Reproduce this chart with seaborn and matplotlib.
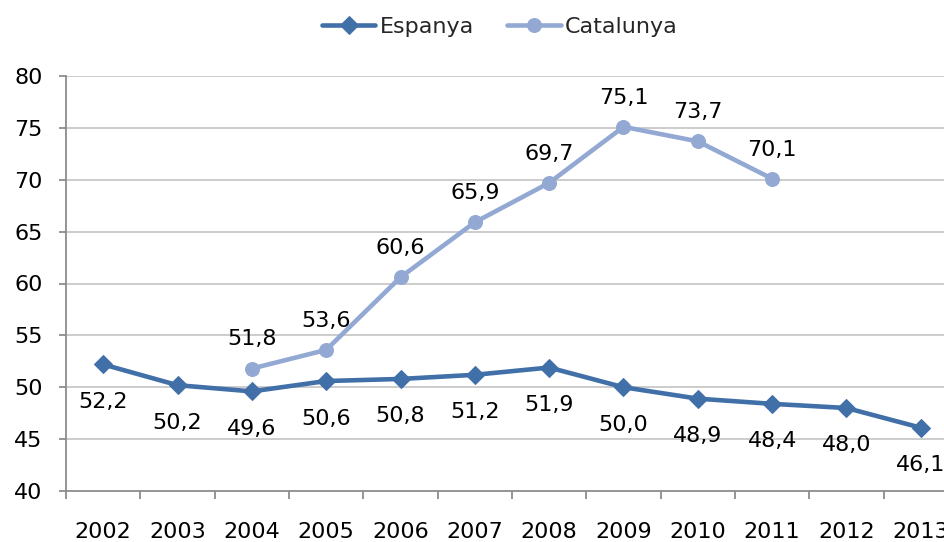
import matplotlib
matplotlib.use("Agg")
import matplotlib.pyplot as plt
import seaborn as sns
import pandas as pd
from matplotlib.ticker import FixedLocator

years = ["2002", "2003", "2004", "2005", "2006", "2007", "2008", "2009", "2010", "2011", "2012", "2013"]
espanya = [52.2, 50.2, 49.6, 50.6, 50.8, 51.2, 51.9, 50.0, 48.9, 48.4, 48.0, 46.1]
cat_years = ["2004", "2005", "2006", "2007", "2008", "2009", "2010", "2011"]
catalunya = [51.8, 53.6, 60.6, 65.9, 69.7, 75.1, 73.7, 70.1]
yticks = [40, 45, 50, 55, 60, 65, 70, 75, 80]

sns.set_theme(style="white")
plt.rcParams["font.family"] = ["DejaVu Sans"]
FS = 16

c_esp = "#4170A8"
c_cat = "#93A9D3"

df_esp = pd.DataFrame({"any": years, "valor": espanya})
df_cat = pd.DataFrame({"any": cat_years, "valor": catalunya})

fig = plt.figure(figsize=(9.45, 5.42), dpi=100)
ax = fig.add_axes([66 / 945, 51 / 542, 892 / 945, 415 / 542])

sns.lineplot(data=df_esp, x="any", y="valor", ax=ax, color=c_esp, linewidth=3.3,
             marker="D", markersize=9, markeredgecolor=c_esp, label="Espanya")
sns.lineplot(data=df_cat, x="any", y="valor", ax=ax, color=c_cat, linewidth=3.3,
             marker="o", markersize=10, markeredgecolor=c_cat, label="Catalunya")

for y, v in zip(years, espanya):
    ax.annotate(f"{v:.1f}".replace(".", ","), (y, v), xytext=(0, -27), textcoords="offset points",
                ha="center", va="center", fontsize=FS, color="black")
for y, v in zip(cat_years, catalunya):
    ax.annotate(f"{v:.1f}".replace(".", ","), (y, v), xytext=(0, 21), textcoords="offset points",
                ha="center", va="center", fontsize=FS, color="black")

ax.set_xlim(-0.5, len(years) - 0.5)
ax.set_ylim(40, 80)
ax.set_yticks(yticks)
ax.set_xlabel("")
ax.set_ylabel("")

for y in yticks[1:]:
    ax.axhline(y, color="#BEBEBE", linewidth=1.1, zorder=0)

for s in ["top", "right"]:
    ax.spines[s].set_visible(False)
for s in ["left", "bottom"]:
    ax.spines[s].set_color("#8C8C8C")
    ax.spines[s].set_linewidth(1.3)

ax.xaxis.set_minor_locator(FixedLocator([i - 0.5 for i in range(len(years) + 1)]))
ax.tick_params(axis="x", which="major", length=0, pad=22, labelsize=FS, colors="black")
ax.tick_params(axis="x", which="minor", length=6, width=1.3, color="#8C8C8C", direction="out", bottom=True)
ax.tick_params(axis="y", which="major", length=5, width=1.3, color="#8C8C8C", pad=12, labelsize=FS,
               labelcolor="black", left=True, direction="out")

ax.legend(loc="center", bbox_to_anchor=(500 / 945, 1 - 27 / 542), bbox_transform=fig.transFigure,
          ncol=2, frameon=False, fontsize=FS, handlelength=2.4, handletextpad=0.2, columnspacing=1.5)

fig.savefig("out.png", dpi=100)
